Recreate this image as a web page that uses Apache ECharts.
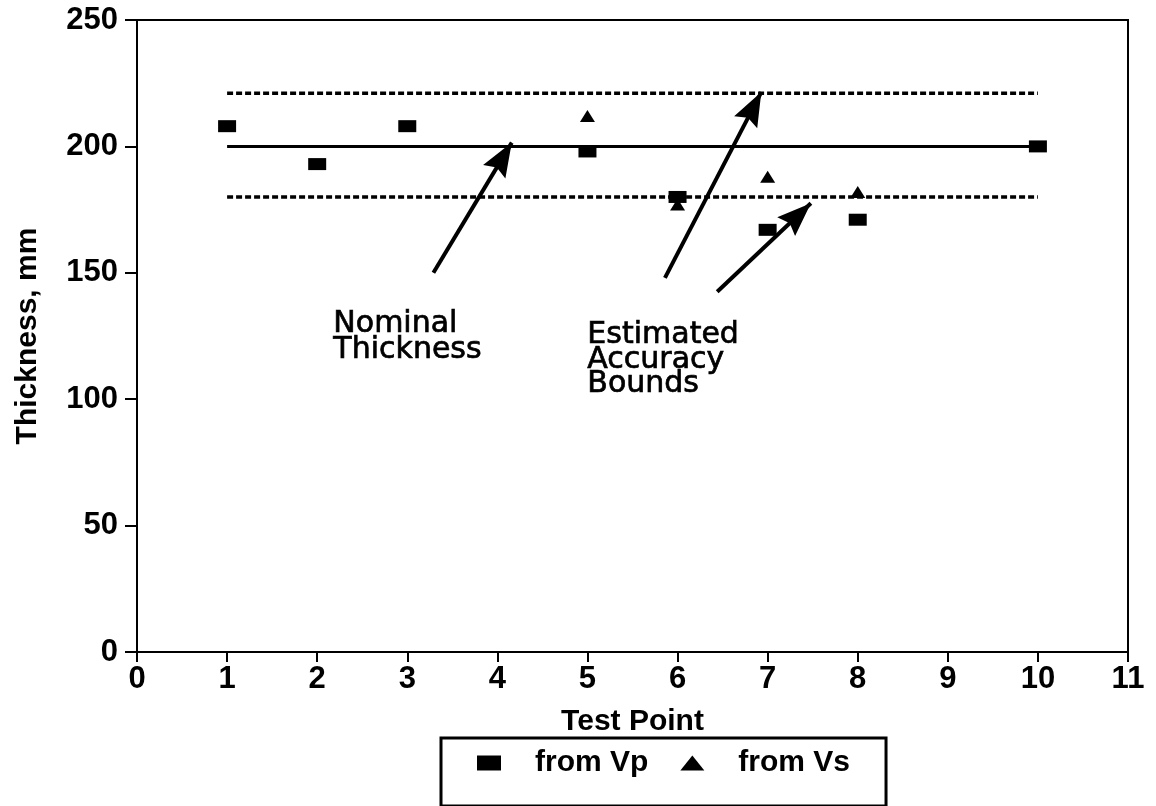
<!DOCTYPE html>
<html>
<head>
<meta charset="utf-8">
<script src="https://cdn.jsdelivr.net/npm/echarts@6/dist/echarts.min.js"></script>
<style>
html,body{margin:0;padding:0;background:#fff;}
#chart{width:1156px;height:806px;}
</style>
</head>
<body>
<div id="chart"></div>
<script>
// ---- data ----
const vpX = [1, 2, 3, 5, 6, 7, 8, 10];
const vpY = [208, 193, 208, 198, 180, 167, 171, 200];
const vsX = [5, 6, 7, 8];
const vsY = [212, 177, 188, 182];
const nominalLine = [[1, 200], [10, 200]];
const upperBound = [[1, 221], [10, 221]];
const lowerBound = [[1, 180], [10, 180]];
// annotation arrows (start -> tip), in data units
const arrows = [
  [[3.29, 150], [4.16, 201.5]],
  [[5.86, 148], [6.93, 221.5]],
  [[6.44, 142.5], [7.48, 177.5]]
];
const xTicks = [0, 11, 1];   // min, max, interval
const yTicks = [0, 250, 50];
const legendNames = ['from Vp', 'from Vs'];

const chart = echarts.init(document.getElementById('chart'), null, {renderer: 'canvas'});
const F = 'Liberation Sans, Arial, sans-serif';
const black = '#000';
const headW = 26, headH = 34;
const arrowHead = 'path://M0,0 L13,34 L0,29 L-13,34 Z';

const option = {
  animation: false,
  backgroundColor: '#fff',
  grid: {left: 137, right: 28, top: 20, bottom: 154, show: true, borderColor: black, borderWidth: 2},
  xAxis: {
    type: 'value', min: xTicks[0], max: xTicks[1], interval: xTicks[2],
    name: 'Test Point', nameLocation: 'middle', nameGap: 55,
    nameTextStyle: {fontFamily: F, fontWeight: 'bold', fontSize: 30, color: black},
    axisLine: {show: true, lineStyle: {color: black, width: 2}},
    axisTick: {show: true, length: 10, lineStyle: {color: black, width: 2}},
    axisLabel: {fontFamily: F, fontWeight: 'bold', fontSize: 31, color: black, margin: 12},
    splitLine: {show: false}
  },
  yAxis: {
    type: 'value', min: yTicks[0], max: yTicks[1], interval: yTicks[2],
    name: 'Thickness, mm', nameLocation: 'middle', nameGap: 94, nameRotate: 90,
    nameTextStyle: {fontFamily: F, fontWeight: 'bold', fontSize: 30, color: black},
    axisLine: {show: true, lineStyle: {color: black, width: 2}},
    axisTick: {show: true, length: 12, lineStyle: {color: black, width: 2}},
    axisLabel: {fontFamily: F, fontWeight: 'bold', fontSize: 31, color: black, margin: 19},
    splitLine: {show: false}
  },
  legend: {
    data: legendNames,
    left: 441, top: 738,
    orient: 'horizontal',
    borderColor: black, borderWidth: 3, borderRadius: 0,
    padding: [10, 36, 28, 36],
    itemGap: 32, itemWidth: 24, itemHeight: 15,
    itemStyle: {opacity: 1},
    textStyle: {fontFamily: F, fontWeight: 'bold', fontSize: 30, color: black, padding: [0, 0, 0, 29]},
    selectedMode: false
  },
  graphic: [
    {type: 'text', left: 333, top: 309, silent: true,
     style: {text: 'Nominal\nThickness', font: '30px "DejaVu Sans"', fill: black, stroke: black, lineWidth: 0.7, lineHeight: 26}},
    {type: 'text', left: 587, top: 320, silent: true,
     style: {text: 'Estimated\nAccuracy\nBounds', font: '30px "DejaVu Sans"', fill: black, stroke: black, lineWidth: 0.7, lineHeight: 24.5}}
  ],
  series: [
    {name: 'nominal', type: 'line', data: nominalLine, showSymbol: false, silent: true,
     lineStyle: {color: black, width: 3}, z: 2},
    {name: 'upper', type: 'line', data: upperBound, showSymbol: false, silent: true,
     lineStyle: {color: black, width: 3.5, type: [6, 3]}, z: 2},
    {name: 'lower', type: 'line', data: lowerBound, showSymbol: false, silent: true,
     lineStyle: {color: black, width: 3.5, type: [6, 3]}, z: 2,
     markLine: {
       silent: true, symbol: ['none', arrowHead], symbolSize: [1, [headW, headH]],
       label: {show: false},
       lineStyle: {color: black, width: 4, type: 'solid', opacity: 1},
       data: arrows.map(a => [
         {coord: a[0]},
         {coord: a[1], symbol: arrowHead, symbolSize: [headW, headH], symbolOffset: [0, headH / 2]}
       ])
     }},
    {name: 'from Vp', type: 'scatter', symbol: 'rect', symbolSize: [18, 12],
     itemStyle: {color: black, opacity: 1}, data: vpX.map((x, i) => [x, vpY[i]]), z: 5},
    {name: 'from Vs', type: 'scatter', symbol: 'triangle', symbolSize: [15, 12],
     itemStyle: {color: black, opacity: 1}, data: vsX.map((x, i) => [x, vsY[i]]), z: 5}
  ]
};
chart.setOption(option);
</script>
</body>
</html>
